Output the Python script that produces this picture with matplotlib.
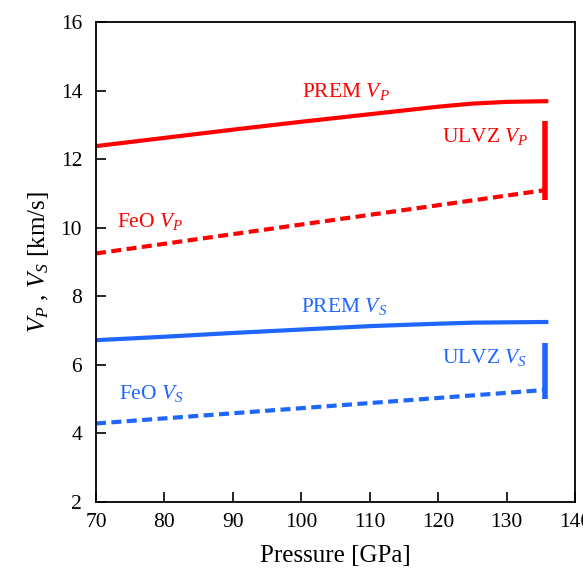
import matplotlib.pyplot as plt
import numpy as np

plt.rcParams.update({
    'font.family': 'Liberation Serif',
    'font.size': 15,
    'mathtext.fontset': 'custom',
    'mathtext.rm': 'Liberation Serif',
    'mathtext.it': 'Liberation Serif:italic',
})

red = '#ff0000'
blue = '#1f66ff'

# PREM velocities along pressure
prem_p = [70, 80, 90, 100, 110, 120, 125, 130, 135.8]
prem_vp = [12.38, 12.62, 12.86, 13.09, 13.31, 13.53, 13.62, 13.67, 13.69]
prem_vs = [6.72, 6.82, 6.93, 7.03, 7.13, 7.20, 7.23, 7.24, 7.25]

# FeO velocities
feo_p = [70, 135.8]
feo_vp = [9.25, 11.10]
feo_vs = [4.29, 5.27]

# ULVZ ranges at the CMB
ulvz_p = 135.6
ulvz_vp = [10.80, 13.12]
ulvz_vs = [5.00, 6.63]

fig = plt.figure(figsize=(5.83, 5.70), dpi=100)
ax = fig.add_axes([0.1647, 0.1193, 0.8216, 0.8421])

ax.plot(prem_p, prem_vp, color=red, lw=3)
ax.plot(feo_p, feo_vp, color=red, lw=3, ls=(0, (2.4, 1.3)))
ax.plot([ulvz_p, ulvz_p], ulvz_vp, color=red, lw=4, solid_capstyle='butt')

ax.plot(prem_p, prem_vs, color=blue, lw=3)
ax.plot(feo_p, feo_vs, color=blue, lw=3, ls=(0, (2.4, 1.3)))
ax.plot([ulvz_p, ulvz_p], ulvz_vs, color=blue, lw=4, solid_capstyle='butt')

ax.text(100.1, 13.81, r'PREM $V_P$', color=red, fontsize=15.5)
ax.text(73.1, 10.02, r'FeO $V_P$', color=red, fontsize=15.5)
ax.text(120.5, 12.5, r'ULVZ $V_P$', color=red, fontsize=15.5)
ax.text(100.0, 7.55, r'PREM $V_S$', color=blue, fontsize=15.5)
ax.text(73.3, 5.0, r'FeO $V_S$', color=blue, fontsize=15.5)
ax.text(120.6, 6.04, r'ULVZ $V_S$', color=blue, fontsize=15.5)

ax.set_xlim(70, 140)
ax.set_ylim(2, 16)
ax.set_xticks(np.arange(70, 141, 10))
ax.set_yticks(np.arange(2, 17, 2))
ax.tick_params(direction='in', length=7, width=1.2, labelsize=15.5, pad=8)
ax.tick_params(axis='y', pad=10)
for s in ax.spines.values():
    s.set_linewidth(1.3)

ax.set_xlabel('Pressure [GPa]', fontsize=18, labelpad=9)
ax.set_ylabel(r'$V_P$ , $V_S$ [km/s]', fontsize=18, labelpad=7)

fig.savefig('out.png', dpi=100)
